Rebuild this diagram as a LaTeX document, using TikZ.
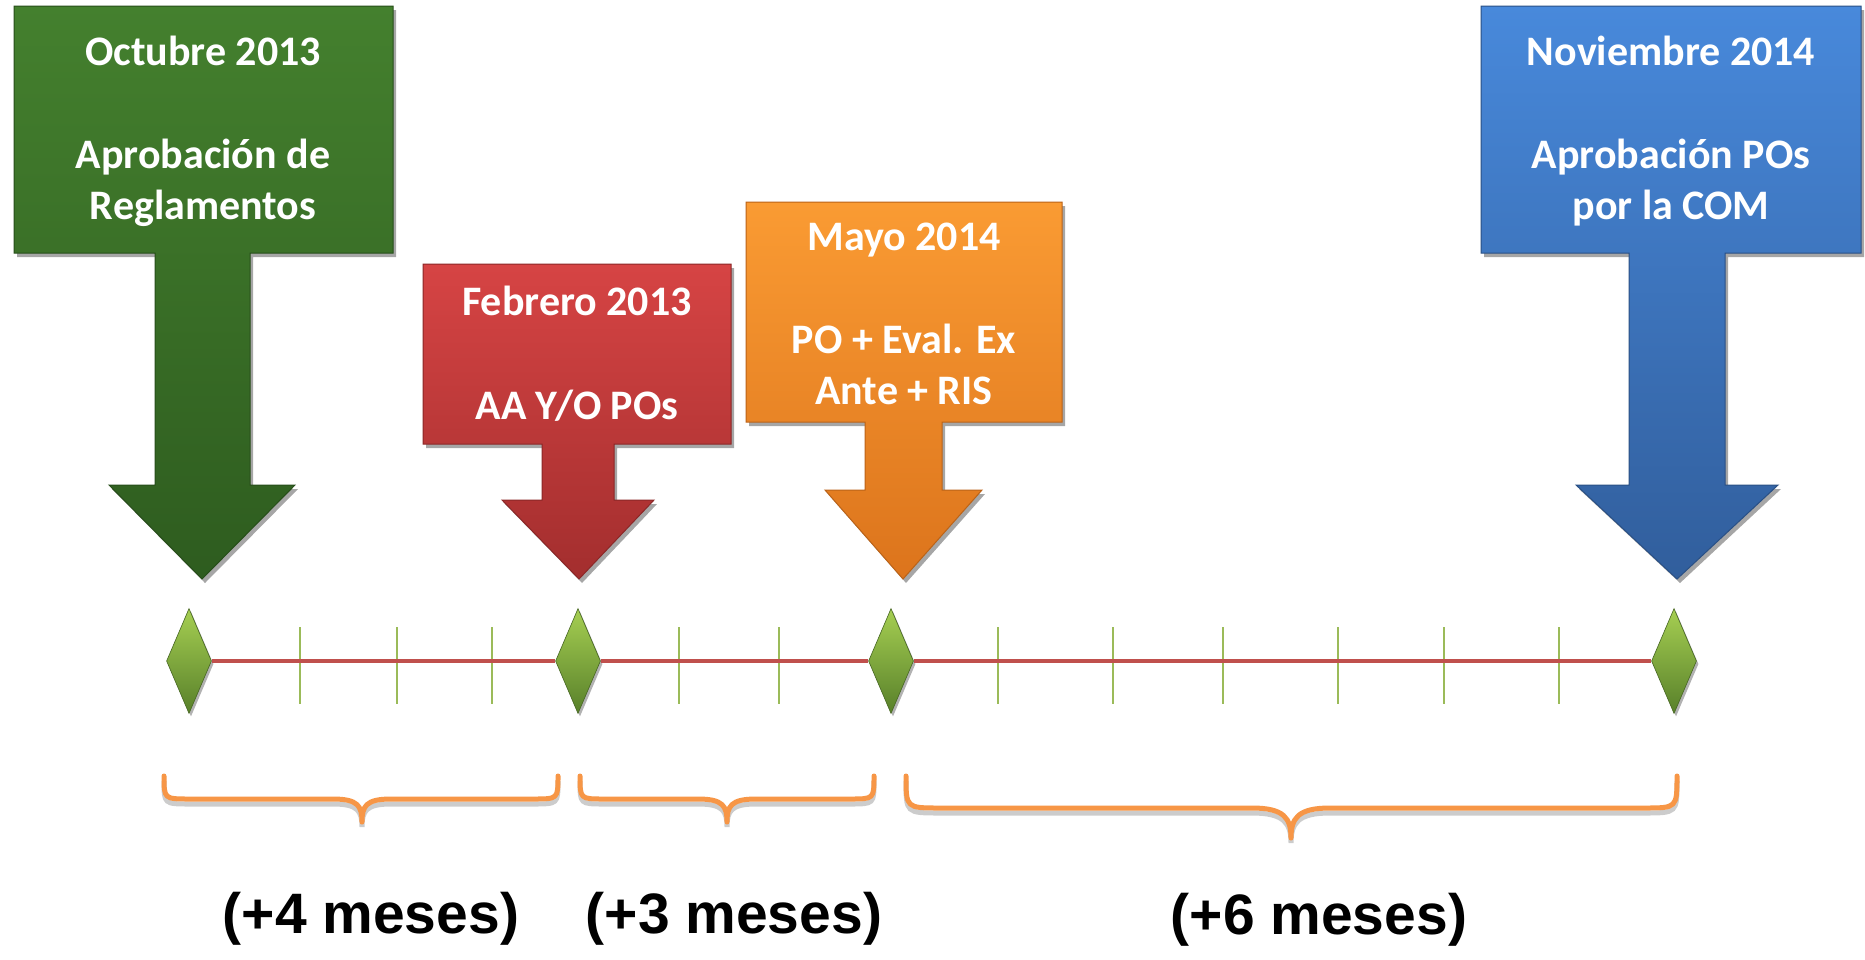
\documentclass[tikz,border=0pt]{standalone}
\usepackage{fontspec}
\setmainfont{Carlito}
\newfontfamily\labelfont{Liberation Sans}
\usetikzlibrary{shadows,shapes.geometric}
\definecolor{grnA}{HTML}{44802E}
\definecolor{grnB}{HTML}{2E5C1F}
\definecolor{redA}{HTML}{D64444}
\definecolor{redB}{HTML}{A32E2E}
\definecolor{oraA}{HTML}{FA9B33}
\definecolor{oraB}{HTML}{DC741C}
\definecolor{bluA}{HTML}{4889DB}
\definecolor{bluB}{HTML}{315E9C}
\definecolor{tlred}{HTML}{C0504D}
\definecolor{tickgrn}{HTML}{9BBB59}
\definecolor{dmA}{HTML}{A6CF52}
\definecolor{dmB}{HTML}{58802A}
\definecolor{brace}{HTML}{F79646}
\tikzset{
  callout/.style 2 args={top color=#1, bottom color=#2, draw=#2!85!black, line width=1pt,
    drop shadow={shadow xshift=3pt, shadow yshift=-4pt, opacity=0.35, fill=black}},
  boxtext/.style={text=white, font=\fontsize{42}{50}\selectfont\bfseries, anchor=base, inner sep=0pt},
  tline/.style={draw=tlred, line width=4.5pt},
  tickmark/.style={draw=tickgrn, line width=2.2pt},
  milestone/.style={shape=diamond, minimum width=45pt, minimum height=105pt, inner sep=0pt,
    top color=dmA, bottom color=dmB, draw=dmB!80!black, line width=0.6pt,
    drop shadow={shadow xshift=2pt, shadow yshift=-3pt, opacity=0.3, fill=black}},
  bracestyle/.style={draw=brace, line width=5pt, line cap=round, line join=round,
    preaction={draw=black, opacity=0.2, line width=5pt, transform canvas={yshift=-5pt}}},
  durlabel/.style={font=\labelfont\bfseries\fontsize{57}{60}\selectfont, anchor=base, inner sep=0pt}
}
\begin{document}
\begin{tikzpicture}[x=1pt,y=-1pt]
\useasboundingbox[fill=white] (0,0) rectangle (1865,959);

% callout arrows
\path[callout={grnA}{grnB}] (14,6) -- (393,6) -- (393,253) -- (250,253) -- (250,485) -- (295,485)
  -- (202,579) -- (109,485) -- (155,485) -- (155,253) -- (14,253) -- cycle;
\path[callout={redA}{redB}] (423,264) -- (731,264) -- (731,444) -- (614,444) -- (614,500) -- (654,500)
  -- (579,579) -- (502,500) -- (542,500) -- (542,444) -- (423,444) -- cycle;
\path[callout={oraA}{oraB}] (746,202) -- (1062,202) -- (1062,422) -- (942,422) -- (942,490) -- (982,490)
  -- (903,579) -- (825,490) -- (865,490) -- (865,422) -- (746,422) -- cycle;
\path[callout={bluA}{bluB}] (1481,6) -- (1861,6) -- (1861,253) -- (1725,253) -- (1725,485) -- (1778,485)
  -- (1677,579) -- (1576,485) -- (1629,485) -- (1629,253) -- (1481,253) -- cycle;

% texts in callouts
\node[boxtext] (g1) at (203,65) {Octubre 2013};
\node[boxtext] (g2) at (203,168) {Aprobación de};
\node[boxtext] (g3) at (203,219) {Reglamentos};
\node[boxtext] (r1) at (577,315) {Febrero 2013};
\node[boxtext] (r2) at (577,419) {AA Y/O POs};
\node[boxtext] (o1) at (904,250) {Mayo 2014};
\node[boxtext] (o2) at (904,353) {PO + Eval. Ex};
\node[boxtext] (o3) at (904,404) {Ante + RIS};
\node[boxtext] (b1) at (1671,65) {Noviembre 2014};
\node[boxtext] (b2) at (1671,168) {Aprobación POs};
\node[boxtext] (b3) at (1671,219) {por la COM};

% ticks
\foreach \x in {300,397,492,679,779,998,1113,1223,1338,1444,1559}
  \draw[tickmark] (\x,627) -- (\x,704);

% milestones
\node[milestone] (d1) at (189,661) {};
\node[milestone] (d2) at (578,661) {};
\node[milestone] (d3) at (891,661) {};
\node[milestone] (d4) at (1674,661) {};
\draw[tline] (d1.east) -- (d2.west);
\draw[tline] (d2.east) -- (d3.west);
\draw[tline] (d3.east) -- (d4.west);

% braces
\draw[bracestyle] (164,776) .. controls (164,799) .. (190,799) -- (333,799)
  .. controls (358,799) and (362,806) .. (362,822)
  .. controls (362,806) and (366,799) .. (391,799) -- (533,799)
  .. controls (558,799) .. (558,776);
\draw[bracestyle] (580,776) .. controls (580,799) .. (604,799) -- (698,799)
  .. controls (723,799) and (727,806) .. (727,822)
  .. controls (727,806) and (731,799) .. (756,799) -- (850,799)
  .. controls (874,799) .. (874,776);
\draw[bracestyle] (906,776) .. controls (906,808) .. (940,808) -- (1252,808)
  .. controls (1284,808) and (1291,818) .. (1291,838)
  .. controls (1291,818) and (1298,808) .. (1330,808) -- (1644,808)
  .. controls (1677,808) .. (1677,776);

% duration labels
\node[durlabel] (l1) at (371,933) {(+4 meses)};
\node[durlabel] (l2) at (734,933) {(+3 meses)};
\node[durlabel] (l3) at (1319,934) {(+6 meses)};
\end{tikzpicture}
\end{document}
